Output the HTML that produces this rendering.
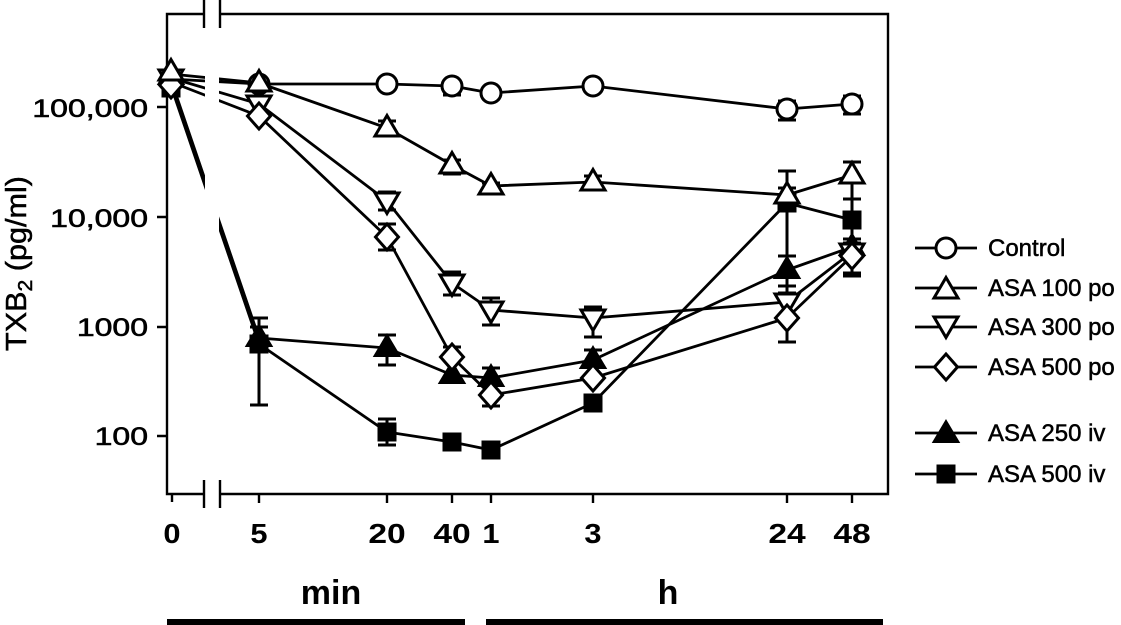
<!DOCTYPE html>
<html><head><meta charset="utf-8"><style>
html,body{margin:0;padding:0;background:#fff;}
svg{display:block;}
text{font-family:"Liberation Sans",Arial,sans-serif;fill:#000;}
</style></head><body>
<svg width="1121" height="625" viewBox="0 0 1121 625" xmlns="http://www.w3.org/2000/svg">
<defs>
<g id="mc"><circle cx="0" cy="0" r="10" fill="#fff" stroke="#000" stroke-width="3"/></g>
<g id="mtu"><polygon points="0,-12.5 12,8 -12,8" fill="#fff" stroke="#000" stroke-width="3"/></g>
<g id="mtd"><polygon points="0,12.5 12,-8 -12,-8" fill="#fff" stroke="#000" stroke-width="3"/></g>
<g id="md"><polygon points="0,-13 11.5,0 0,13 -11.5,0" fill="#fff" stroke="#000" stroke-width="3"/></g>
<g id="mft"><polygon points="0,-13 12.5,8 -12.5,8" fill="#000" stroke="#000" stroke-width="2"/></g>
<g id="ms"><rect x="-9.5" y="-9.5" width="19" height="19" fill="#000"/></g>
</defs>

<!-- series lines -->
<g fill="none" stroke="#000" stroke-width="2.8" stroke-linejoin="round">
<polyline points="171,79 259,84 387,84 452,86 491,93 593,86 787,109 852,104"/>
<polyline points="171,74 259,83 387,128 452,165 491,186 593,182 787,195 852,175"/>
<polyline points="171,78 259,104 387,201 452,283 491,310 593,318 787,302 852,252"/>
<polyline points="171,82 259,116 387,237 452,357 491,395 593,378 787,318 852,256"/>
<polyline points="171,80 259,338 387,348 452,375 491,378 593,360 787,270 852,247"/>
<polyline points="171,86 259,344 387,432 452,442 491,450 593,403 787,203 852,220"/>
</g>

<!-- error bars -->
<g stroke="#000" stroke-width="3" fill="none">
<path d="M452,86V95M443,95H461"/>
<path d="M491,93V99M482,99H500"/>
<path d="M787,101V120M778,101H796M778,120H796"/>
<path d="M852,96V114M843,96H861M843,114H861"/>
<path d="M387,121V134M378,121H396M378,134H396"/>
<path d="M452,160V174M443,160H461M443,174H461"/>
<path d="M491,183V192M482,183H500M482,192H500"/>
<path d="M593,176V190M584,176H602M584,190H602"/>
<path d="M787,171V210M778,171H796M778,188H796"/>
<path d="M852,162V200M843,162H861M843,199H861"/>
<path d="M387,192V210M378,192H396M378,210H396"/>
<path d="M452,272V295M443,272H461M443,295H461"/>
<path d="M491,298V325M482,298H500M482,325H500"/>
<path d="M593,307V337M584,307H602M584,337H602"/>
<path d="M787,286V293M778,293H796"/>
<path d="M852,243V276M843,243H861M843,273H861M843,276H861"/>
<path d="M387,224V250M378,224H396M378,250H396"/>
<path d="M452,347V365M443,347H461"/>
<path d="M491,385V406M482,406H500"/>
<path d="M787,300V342M778,342H796"/>
<path d="M259,318V338M250,318H268"/>
<path d="M387,335V365M378,335H396M378,365H396"/>
<path d="M491,368V388M482,368H500"/>
<path d="M593,350V370M584,350H602"/>
<path d="M787,256V286M778,256H796M778,286H796"/>
<path d="M852,227V273M843,227H861"/>
<path d="M259,327V405M250,327H268M250,405H268"/>
<path d="M387,419V445M378,419H396M378,445H396"/>
<path d="M787,171V290"/>
<path d="M852,199V241M843,239H861"/>
</g>

<!-- axis break gap -->
<rect x="205" y="0" width="14" height="512" fill="#fff"/>

<!-- frame -->
<g stroke="#000" stroke-width="2.4" fill="none">
<path d="M204,14H167V494H204"/>
<path d="M220,14H888V494H220"/>
<path d="M204,0V28M220,0V28"/>
<path d="M204,480V508M220,480V508"/>
<path d="M157,107H167M157,217H167M157,327H167M157,436H167"/>
<path d="M172,494V502M259,494V503M387,494V503M452,494V503M491,494V503M593,494V503M787,494V503M852,494V503"/>
</g>

<!-- markers -->
<g>
<use href="#mc" x="171" y="79"/><use href="#mc" x="259" y="84"/><use href="#mc" x="387" y="84"/><use href="#mc" x="452" y="86"/><use href="#mc" x="491" y="93"/><use href="#mc" x="593" y="86"/><use href="#mc" x="787" y="109"/><use href="#mc" x="852" y="104"/>
<use href="#ms" x="171" y="88"/><use href="#ms" x="259" y="344"/><use href="#ms" x="387" y="432"/><use href="#ms" x="452" y="442"/><use href="#ms" x="491" y="450"/><use href="#ms" x="593" y="403"/><use href="#ms" x="787" y="203"/><use href="#ms" x="852" y="220"/>
<use href="#mft" x="171" y="76"/><use href="#mft" x="259" y="338"/><use href="#mft" x="387" y="348"/><use href="#mft" x="452" y="375"/><use href="#mft" x="491" y="378"/><use href="#mft" x="593" y="360"/><use href="#mft" x="787" y="270"/><use href="#mft" x="852" y="247"/>
<use href="#mtd" x="171" y="78"/><use href="#mtd" x="259" y="104"/><use href="#mtd" x="387" y="201"/><use href="#mtd" x="452" y="283"/><use href="#mtd" x="491" y="310"/><use href="#mtd" x="593" y="318"/><use href="#mtd" x="787" y="302"/><use href="#mtd" x="852" y="252"/>
<use href="#md" x="171" y="85"/><use href="#md" x="259" y="116"/><use href="#md" x="387" y="237"/><use href="#md" x="452" y="357"/><use href="#md" x="491" y="395"/><use href="#md" x="593" y="378"/><use href="#md" x="787" y="318"/><use href="#md" x="852" y="256"/>
<use href="#mtu" x="171" y="72"/><use href="#mtu" x="259" y="83"/><use href="#mtu" x="387" y="128"/><use href="#mtu" x="452" y="165"/><use href="#mtu" x="491" y="186"/><use href="#mtu" x="593" y="182"/><use href="#mtu" x="787" y="195"/><use href="#mtu" x="852" y="175"/>
</g>

<!-- y tick labels -->
<g font-size="25" stroke="#000" stroke-width="0.6" text-anchor="end">
<text transform="translate(148,117) scale(1.28,1)">100,000</text>
<text transform="translate(148,227) scale(1.28,1)">10,000</text>
<text transform="translate(148,336) scale(1.28,1)">1000</text>
<text transform="translate(148,445) scale(1.28,1)">100</text>
</g>

<!-- y axis title -->
<text transform="translate(26,351) rotate(-90)" font-size="29" stroke="#000" stroke-width="0.5" textLength="175" lengthAdjust="spacingAndGlyphs">TXB<tspan font-size="20" dy="6">2</tspan><tspan dy="-6"> (pg/ml)</tspan></text>

<!-- x tick labels -->
<g font-size="28" font-weight="bold" text-anchor="middle">
<text transform="translate(172,543) scale(1.1,1)">0</text>
<text transform="translate(259,543) scale(1.1,1)">5</text>
<text transform="translate(387,543) scale(1.2,1)">20</text>
<text transform="translate(452,543) scale(1.2,1)">40</text>
<text transform="translate(491,543) scale(1.1,1)">1</text>
<text transform="translate(593,543) scale(1.1,1)">3</text>
<text transform="translate(787,543) scale(1.2,1)">24</text>
<text transform="translate(852,543) scale(1.2,1)">48</text>
</g>

<text x="331" y="604" font-size="34" font-weight="bold" text-anchor="middle">min</text>
<text x="668" y="604" font-size="34" font-weight="bold" text-anchor="middle">h</text>
<rect x="167" y="619" width="298" height="6" fill="#000"/>
<rect x="486" y="619" width="397" height="6" fill="#000"/>

<!-- legend -->
<g stroke="#000" stroke-width="2.8">
<path d="M915,248H977M915,288H977M915,327H977M915,367H977M915,433H977M915,474H977"/>
</g>
<use href="#mc" x="946" y="248"/>
<use href="#mtu" x="946" y="290"/>
<use href="#mtd" x="946" y="325"/>
<use href="#md" x="946" y="367"/>
<use href="#mft" x="946" y="434"/>
<use href="#ms" x="946" y="474"/>
<g font-size="24" stroke="#000" stroke-width="0.5">
<text x="988" y="256">Control</text>
<text x="988" y="296">ASA 100 po</text>
<text x="988" y="335">ASA 300 po</text>
<text x="988" y="375">ASA 500 po</text>
<text x="988" y="441">ASA 250 iv</text>
<text x="988" y="482">ASA 500 iv</text>
</g>
</svg>
</body></html>
